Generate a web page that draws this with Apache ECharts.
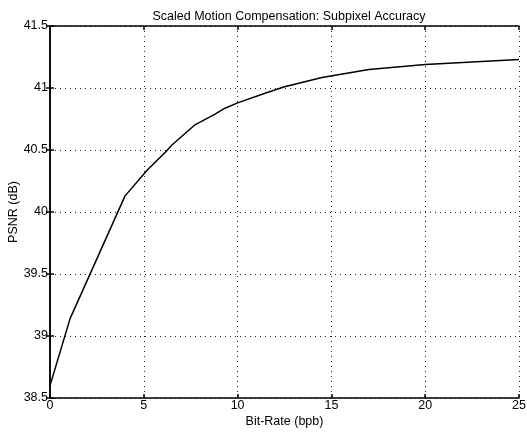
<!DOCTYPE html>
<html><head><meta charset="utf-8">
<script src="https://cdn.jsdelivr.net/npm/echarts@6/dist/echarts.min.js"></script>
<style>html,body{margin:0;padding:0;background:#fff}#c{width:527px;height:432px}</style>
</head><body><div id="c"></div>
<script>
const bitRate = [0, 1.07, 4.0, 5.2, 6.2, 6.5, 7.7, 8.8, 9.3, 10.0, 11.5, 12.5, 14.5, 17.0, 20.0, 25.0];
const psnr    = [38.6, 39.14, 40.13, 40.34, 40.49, 40.54, 40.70, 40.79, 40.835, 40.88, 40.96, 41.01, 41.085, 41.15, 41.19, 41.23];
const xTicks = [0, 5, 10, 15, 20, 25];
const yTicks = [38.5, 39, 39.5, 40, 40.5, 41, 41.5];

const font = 'Liberation Sans, Arial, sans-serif';
const fs = 12.5;
const data = bitRate.map((x, i) => [x, psnr[i]]);
const chart = echarts.init(document.getElementById('c'));
const gridLine = {show: true, lineStyle: {color: '#222', type: [1, 4], width: 1}};
chart.setOption({
  animation: false,
  backgroundColor: '#fff',
  title: {text: 'Scaled Motion Compensation: Subpixel Accuracy', left: 284, top: 5, textAlign: 'center',
    textStyle: {fontFamily: font, fontSize: fs, fontWeight: 'normal', color: '#000'}},
  grid: {left: 50, right: 8, top: 26, bottom: 34, outerBoundsMode: 'none', containLabel: false},
  xAxis: [{
    type: 'value', min: 0, max: 25, interval: 5,
    name: 'Bit-Rate (bpb)', nameLocation: 'middle', nameGap: 17, nameMoveOverlap: false,
    nameTextStyle: {fontFamily: font, fontSize: fs, color: '#000'},
    axisLine: {show: true, lineStyle: {color: '#000', width: 1.5}},
    axisTick: {show: true, inside: true, length: 4, lineStyle: {color: '#000', width: 1.5}},
    axisLabel: {fontFamily: font, fontSize: fs, color: '#000', margin: 1,
      formatter: v => xTicks.includes(v) ? String(v) : ''},
    splitLine: gridLine
  }, {
    type: 'value', min: 0, max: 25, interval: 5, position: 'top',
    axisLine: {show: true, lineStyle: {color: '#000', width: 1.5}},
    axisTick: {show: true, inside: true, length: 4, lineStyle: {color: '#000', width: 1.5}},
    axisLabel: {show: false}, splitLine: {show: false}
  }],
  yAxis: [{
    type: 'value', min: 38.5, max: 41.5, interval: 0.5,
    name: 'PSNR (dB)', nameLocation: 'middle', nameGap: 30, nameRotate: 90, nameMoveOverlap: false,
    nameTextStyle: {fontFamily: font, fontSize: fs, color: '#000'},
    axisLine: {show: true, lineStyle: {color: '#000', width: 1.5}},
    axisTick: {show: true, inside: true, length: 4, lineStyle: {color: '#000', width: 1.5}},
    axisLabel: {fontFamily: font, fontSize: fs, color: '#000', margin: 2,
      formatter: v => { const t = yTicks.find(y => Math.abs(y - v) < 1e-6); return t === undefined ? '' : String(t); }},
    splitLine: gridLine
  }, {
    type: 'value', min: 38.5, max: 41.5, interval: 0.5, position: 'right',
    axisLine: {show: true, lineStyle: {color: '#000', width: 1.5}},
    axisTick: {show: true, inside: true, length: 4, lineStyle: {color: '#000', width: 1.5}},
    axisLabel: {show: false}, splitLine: {show: false}
  }],
  series: [{
    type: 'line', data: data, showSymbol: false, symbol: 'none',
    lineStyle: {color: '#000', width: 1.5}, smooth: false
  }]
});
</script></body></html>
